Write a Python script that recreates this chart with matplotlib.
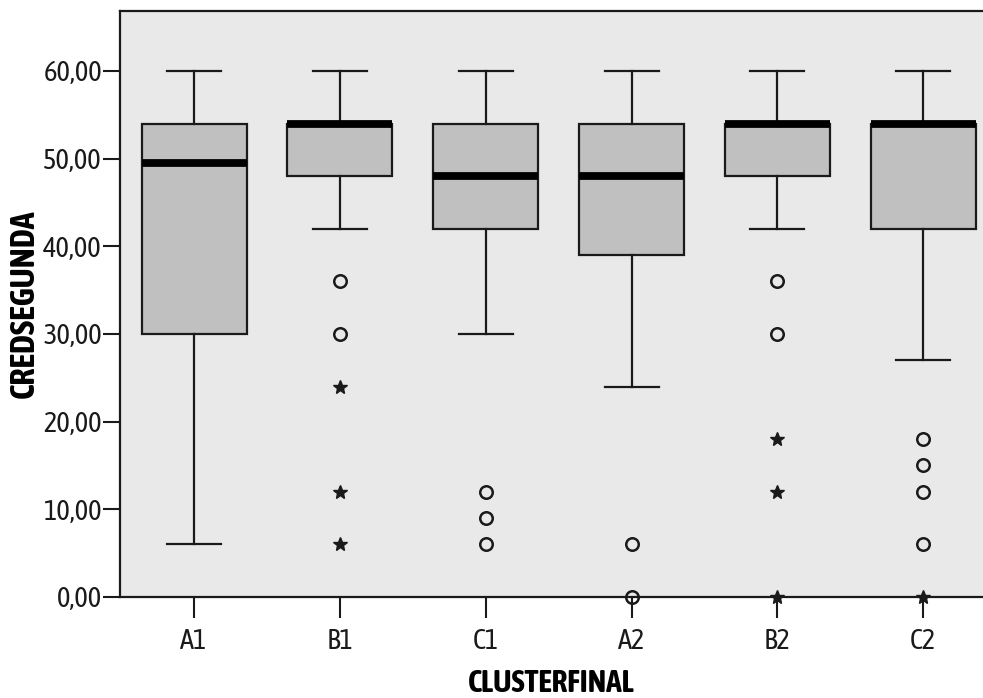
import matplotlib
matplotlib.use("Agg")
from matplotlib import pyplot as plt
from matplotlib import font_manager as fm
from matplotlib.ticker import FuncFormatter

groups = ["A1", "B1", "C1", "A2", "B2", "C2"]
whis_low = [6, 42, 30, 24, 42, 27]
q1 = [30, 48, 42, 39, 48, 42]
medians = [49.5, 54, 48, 48, 54, 54]
q3 = [54, 54, 54, 54, 54, 54]
whis_high = [60, 60, 60, 60, 60, 60]

# outliers (circles) and extremes (stars) per cluster
outliers = {
    "B1": [36, 30],
    "C1": [12, 9, 6],
    "A2": [6, 0],
    "B2": [36, 30],
    "C2": [18, 15, 12, 6],
}
extremes = {
    "B1": [24, 12, 6],
    "B2": [18, 12, 0],
    "C2": [0],
}

# prefer a narrow face that also comes in bold
faces = fm.fontManager.ttflist
narrow = sorted({f.name for f in faces
                 if ("Narrow" in f.name or "Condensed" in f.name)
                 and f.weight in (700, "bold")})
if not narrow:
    narrow = sorted({f.name for f in faces
                     if "Narrow" in f.name or "Condensed" in f.name})
plt.rcParams["font.family"] = narrow[:1] + ["Liberation Sans", "DejaVu Sans"]
big = 1.0 if narrow else 0.0

fig = plt.figure(figsize=(9.83, 6.98), dpi=100)
ax = fig.add_axes([120 / 983, 101 / 698, 1 - 120 / 983, 586 / 698])
ax.set_facecolor("#e9e9e9")

line_c = "#1a1a1a"
stats = []
for i, g in enumerate(groups):
    stats.append(dict(label=g, whislo=whis_low[i], q1=q1[i], med=medians[i],
                      q3=q3[i], whishi=whis_high[i], fliers=[]))

positions = list(range(1, len(groups) + 1))
ax.bxp(stats, positions=positions, widths=0.72, capwidths=0.37,
       showfliers=False, patch_artist=True,
       boxprops=dict(facecolor="#c0c0c0", edgecolor=line_c, linewidth=1.6),
       whiskerprops=dict(color=line_c, linewidth=1.6),
       capprops=dict(color=line_c, linewidth=1.6),
       medianprops=dict(color="black", linewidth=5.6, solid_capstyle="butt"))

for pos, g in zip(positions, groups):
    vals = outliers.get(g, [])
    ax.plot([pos] * len(vals), vals, linestyle="none", marker="o", markersize=9,
            markerfacecolor="none", markeredgecolor=line_c, markeredgewidth=1.8,
            clip_on=False, zorder=5)
    vals = extremes.get(g, [])
    ax.plot([pos] * len(vals), vals, linestyle="none", marker="*", markersize=10,
            color=line_c, clip_on=False, zorder=5)

ax.set_xlim(0.4925, 6.41)
ax.set_ylim(0, 66.84)
ax.set_yticks(range(0, 61, 10))
ax.yaxis.set_major_formatter(FuncFormatter(lambda v, p: f"{v:.2f}".replace(".", ",")))
ax.set_xticks(positions)
ax.set_xticklabels(groups)

ax.spines["right"].set_visible(False)
for s in ("left", "bottom", "top"):
    ax.spines[s].set_linewidth(1.6)
    ax.spines[s].set_color(line_c)

ax.tick_params(axis="y", length=12, width=1.5, pad=1, labelsize=17.5 + 3 * big,
               colors=line_c)
ax.tick_params(axis="x", length=15, width=1.5, pad=7, labelsize=17.5 + 3 * big,
               colors=line_c)

ax.set_xlabel("CLUSTERFINAL", fontsize=16.5 + 6 * big, fontweight="bold", labelpad=10)
ax.set_ylabel("CREDSEGUNDA", fontsize=19.5 + 5 * big, fontweight="bold", labelpad=2)

fig.savefig("out.png", dpi=100)
